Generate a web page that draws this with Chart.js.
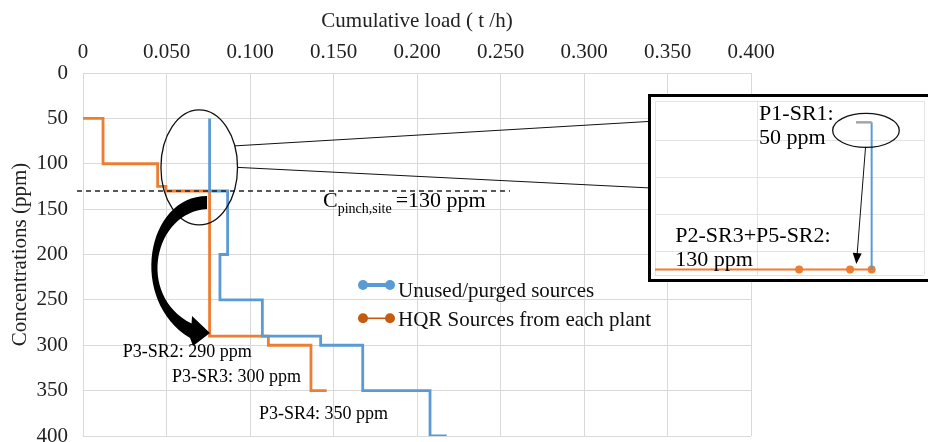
<!DOCTYPE html>
<html>
<head>
<meta charset="utf-8">
<script src="https://cdn.jsdelivr.net/npm/chart.js@4.4.0/dist/chart.umd.min.js"></script>
<style>
  html, body { margin: 0; padding: 0; background: #fff; overflow: hidden; }
  #wrap { position: relative; width: 928px; height: 442px; }
  #inset { position: absolute; left: 648px; top: 94px; width: 280px; height: 182px;
           border: 3px solid #000; background: #fff; }
  canvas { display: block; }
</style>
</head>
<body>
<div id="wrap">
  <canvas id="mainChart" width="928" height="442"></canvas>
  <div id="inset"><canvas id="insetChart" width="277" height="182"></canvas></div>
</div>
<script>
// --- data ---
// HQR sources: concentration levels (ppm) and cumulative load (t/h) at the end of each level
const hqrConc = [50, 100, 125, 130, 290, 300, 350];
const hqrLoad = [0.0120, 0.0447, 0.0497, 0.0758, 0.1110, 0.1365, 0.1459];
const hqrStart = 0;

// unused / purged sources: vertical first, then horizontal to the next load
const unusedConc = [50, 130, 200, 250, 290, 300, 350, 400];
const unusedLoad = [0.0758, 0.0866, 0.0820, 0.1074, 0.1423, 0.1675, 0.2078, 0.2178];

// zoomed inset (around 130 ppm pinch)
const insetHqrLoad = [0.0640, 0.0721, 0.0747, 0.0758];
const insetHqrConc = [130, 130, 130, 130];
const insetUnusedLoad = [0.0758, 0.0758];
const insetUnusedConc = [50, 130];
const insetStubLoad = [0.0750, 0.0758];
const insetStubConc = [50, 50];

const seriesLabels = ['Unused/purged sources', 'HQR Sources from each plant'];
const pinchConc = 130;
const annotations = [
  { text: 'P3-SR2: 290 ppm', load: 0.0238, conc: 313 },
  { text: 'P3-SR3: 300 ppm', load: 0.0533, conc: 340.5 },
  { text: 'P3-SR4: 350 ppm', load: 0.1054, conc: 381.3 }
];

const FONT = "'Liberation Serif', 'Times New Roman', serif";
const BLUE = '#5B9BD5';
const ORANGE = '#ED7D31';
const GRID = '#D9D9D9';

function hqrPoints() {
  const pts = [{ x: hqrStart, y: hqrConc[0] }];
  hqrConc.forEach((c, i) => {
    pts.push({ x: hqrLoad[i], y: c });
    if (i < hqrConc.length - 1) pts.push({ x: hqrLoad[i], y: hqrConc[i + 1] });
  });
  return pts;
}

function unusedPoints() {
  const pts = [];
  unusedConc.forEach((c, i) => {
    pts.push({ x: unusedLoad[i], y: c });
    if (i < unusedConc.length - 1) pts.push({ x: unusedLoad[i], y: unusedConc[i + 1] });
  });
  return pts;
}

function zip(xs, ys) {
  return xs.map((x, i) => ({ x: x, y: ys[i] }));
}

Chart.defaults.font.family = FONT;
Chart.defaults.color = '#222';

// overlay drawing for the main chart: pinch line, ellipse, arrow, labels, legend
const overlayPlugin = {
  id: 'overlay',
  afterDatasetsDraw(chart) {
    const ctx = chart.ctx;
    const xs = chart.scales.x, ys = chart.scales.y;
    const P = (l, c) => [xs.getPixelForValue(l), ys.getPixelForValue(c)];
    ctx.save();

    // pinch line
    const yp = ys.getPixelForValue(pinchConc);
    ctx.strokeStyle = '#222';
    ctx.lineWidth = 1.6;
    ctx.setLineDash([5, 4]);
    ctx.beginPath();
    ctx.moveTo(xs.getPixelForValue(-0.0036), yp);
    ctx.lineTo(xs.getPixelForValue(0.2557), yp);
    ctx.stroke();
    ctx.setLineDash([]);

    // C pinch,site label
    ctx.fillStyle = '#000';
    ctx.textBaseline = 'alphabetic';
    let tx = xs.getPixelForValue(0.1437);
    ctx.font = '22px ' + FONT;
    ctx.fillText('C', tx, 207);
    tx += ctx.measureText('C').width;
    ctx.font = '14px ' + FONT;
    ctx.fillText('pinch,site', tx, 213);
    tx += ctx.measureText('pinch,site').width + 4;
    ctx.font = '22px ' + FONT;
    ctx.fillText('=130 ppm', tx, 207);

    // ellipse around pinch region
    const [ecx, ecy] = P(0.0696, 104);
    const erx = 38.3, ery = 57.5;
    ctx.strokeStyle = '#111';
    ctx.lineWidth = 1.3;
    ctx.beginPath();
    ctx.ellipse(ecx, ecy, erx, ery, 0, 0, Math.PI * 2);
    ctx.stroke();

    // connectors to the inset
    const insetLeft = 648;
    const a = Math.asin(21.5 / ery);
    ctx.lineWidth = 1;
    ctx.beginPath();
    ctx.moveTo(ecx + erx * Math.cos(a), ecy - 21.5);
    ctx.lineTo(insetLeft, 121.5);
    ctx.moveTo(ecx + erx, ecy);
    ctx.lineTo(insetLeft + 3, 188);
    ctx.stroke();

    // big curved arrow
    ctx.fillStyle = '#000';
    ctx.beginPath();
    ctx.moveTo(...P(0.0743, 135.5));
    ctx.bezierCurveTo(...P(0.0377, 135.5), ...P(0.0269, 250.1), ...P(0.0641, 292.0));
    ctx.lineTo(...P(0.0659, 300.8));
    ctx.lineTo(...P(0.0760, 286.5));
    ctx.lineTo(...P(0.0653, 267.8));
    ctx.lineTo(...P(0.0650, 276.0));
    ctx.bezierCurveTo(...P(0.0317, 244.6), ...P(0.0425, 153.2), ...P(0.0743, 149.8));
    ctx.closePath();
    ctx.fill();

    // source labels
    ctx.font = '18px ' + FONT;
    ctx.textBaseline = 'alphabetic';
    annotations.forEach(an => {
      const [x, y] = P(an.load, an.conc);
      ctx.fillText(an.text, x, y);
    });

    // legend
    const legendItems = [
      { label: seriesLabels[0], color: BLUE, lw: 4, y: 285, base: 297 },
      { label: seriesLabels[1], color: '#C55A11', lw: 1.6, y: 318.3, base: 326 }
    ];
    legendItems.forEach(it => {
      ctx.strokeStyle = it.color;
      ctx.fillStyle = it.color;
      ctx.lineWidth = it.lw;
      ctx.beginPath();
      ctx.moveTo(363, it.y);
      ctx.lineTo(390, it.y);
      ctx.stroke();
      [363, 390].forEach(cx => {
        ctx.beginPath();
        ctx.arc(cx, it.y, 5, 0, Math.PI * 2);
        ctx.fill();
      });
      ctx.fillStyle = '#111';
      ctx.font = '21px ' + FONT;
      ctx.fillText(it.label, 398, it.base);
    });

    ctx.restore();
  }
};

new Chart(document.getElementById('mainChart'), {
  type: 'line',
  data: {
    datasets: [
      {
        label: seriesLabels[0],
        data: unusedPoints(),
        borderColor: BLUE,
        borderWidth: 2.8,
        pointRadius: 0
      },
      {
        label: seriesLabels[1],
        data: hqrPoints(),
        borderColor: ORANGE,
        borderWidth: 2.8,
        pointRadius: 0
      }
    ]
  },
  options: {
    responsive: false,
    animation: false,
    layout: { padding: { top: 0, left: 0, right: 177, bottom: 6 } },
    plugins: { legend: { display: false }, tooltip: { enabled: false } },
    scales: {
      x: {
        type: 'linear',
        position: 'top',
        min: 0,
        max: 0.4,
        afterFit: s => { s.height = 73; s.paddingLeft = 0; s.paddingRight = 0; },
        ticks: {
          stepSize: 0.05,
          padding: 8,
          font: { size: 21 },
          callback: v => (v === 0 ? '0' : v.toFixed(3))
        },
        grid: { color: GRID, drawTicks: false },
        border: { color: GRID },
        title: {
          display: true,
          text: 'Cumulative load ( t /h)',
          font: { size: 21 },
          padding: { top: 9, bottom: 0 }
        }
      },
      y: {
        type: 'linear',
        reverse: true,
        min: 0,
        max: 400,
        afterFit: s => { s.width = 83; s.paddingTop = 0; s.paddingBottom = 0; },
        ticks: { stepSize: 50, padding: 15, font: { size: 21 } },
        grid: { color: GRID, drawTicks: false },
        border: { color: GRID },
        title: {
          display: true,
          text: 'Concentrations (ppm)',
          font: { size: 21 },
          padding: { top: 8, bottom: 0 }
        }
      }
    }
  },
  plugins: [overlayPlugin]
});

// inset: zoom on P1-SR1 and the 130 ppm pinch
const insetOverlay = {
  id: 'insetOverlay',
  afterDatasetsDraw(chart) {
    const ctx = chart.ctx;
    const xs = chart.scales.x, ys = chart.scales.y;
    const P = (l, c) => [xs.getPixelForValue(l), ys.getPixelForValue(c)];
    ctx.save();
    ctx.fillStyle = '#000';
    ctx.font = '22px ' + FONT;
    ctx.textBaseline = 'alphabetic';
    ctx.fillText('P1-SR1:', ...P(0.07006, 48.8));
    ctx.fillText('50 ppm', ...P(0.07006, 61.8));
    ctx.fillText('P2-SR3+P5-SR2:', ...P(0.06578, 114.8));
    ctx.fillText('130 ppm', ...P(0.06578, 128.3));

    // ellipse around P1-SR1
    const [cx, cy] = P(0.07551, 54.4);
    ctx.strokeStyle = '#111';
    ctx.lineWidth = 1.3;
    ctx.beginPath();
    ctx.ellipse(cx, cy, 33.3, 17, 0, 0, Math.PI * 2);
    ctx.stroke();

    // thin arrow down to the pinch
    const [x0, y0] = P(0.07549, 63.3);
    const [x1, y1] = P(0.07502, 127.0);
    const ang = Math.atan2(y1 - y0, x1 - x0);
    ctx.lineWidth = 1;
    ctx.beginPath();
    ctx.moveTo(x0, y0);
    ctx.lineTo(x1 - 9 * Math.cos(ang), y1 - 9 * Math.sin(ang));
    ctx.stroke();
    ctx.beginPath();
    ctx.moveTo(x1, y1);
    ctx.lineTo(x1 - 11 * Math.cos(ang) + 4.5 * Math.sin(ang), y1 - 11 * Math.sin(ang) - 4.5 * Math.cos(ang));
    ctx.lineTo(x1 - 11 * Math.cos(ang) - 4.5 * Math.sin(ang), y1 - 11 * Math.sin(ang) + 4.5 * Math.cos(ang));
    ctx.closePath();
    ctx.fill();
    ctx.restore();
  }
};

new Chart(document.getElementById('insetChart'), {
  type: 'line',
  data: {
    datasets: [
      {
        data: zip(insetStubLoad, insetStubConc),
        borderColor: '#A5A5A5',
        borderWidth: 2.5,
        pointRadius: 0
      },
      {
        data: zip(insetUnusedLoad, insetUnusedConc),
        borderColor: BLUE,
        borderWidth: 2,
        pointRadius: 0
      },
      {
        data: zip(insetHqrLoad, insetHqrConc),
        borderColor: ORANGE,
        backgroundColor: ORANGE,
        borderWidth: 2,
        pointRadius: [0, 4, 4, 4],
        pointBorderWidth: 0
      }
    ]
  },
  options: {
    responsive: false,
    animation: false,
    layout: { padding: 0 },
    plugins: { legend: { display: false }, tooltip: { enabled: false } },
    scales: {
      x: {
        type: 'linear',
        min: 0.06475,
        max: 0.07847,
        afterFit: s => { s.height = 0; s.paddingLeft = 0; s.paddingRight = 0; },
        ticks: { display: false, stepSize: 0.005 },
        grid: { color: '#E4E4E4', drawTicks: false },
        border: { display: false }
      },
      y: {
        type: 'linear',
        reverse: true,
        min: 38.4,
        max: 132.96,
        afterFit: s => { s.width = 0; s.paddingTop = 0; s.paddingBottom = 0; },
        ticks: { display: false, stepSize: 20 },
        grid: { color: '#E4E4E4', drawTicks: false },
        border: { display: false }
      }
    }
  },
  plugins: [insetOverlay]
});
</script>
</body>
</html>
